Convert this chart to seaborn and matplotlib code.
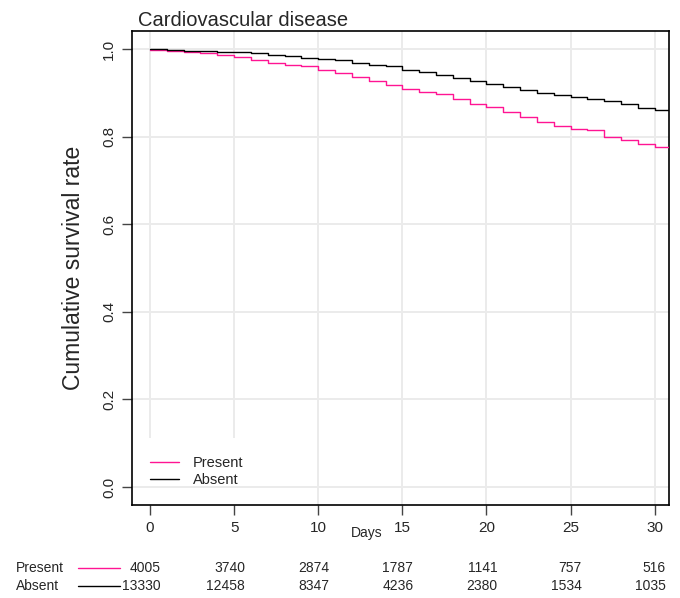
import matplotlib
matplotlib.use('Agg')

import matplotlib.pyplot as plt
import matplotlib.transforms as mtransforms
from matplotlib.lines import Line2D
import numpy as np
import pandas as pd
import seaborn as sns

# -------------------------
# Data
# -------------------------

days = list(range(0, 32))

# survival value on each interval [day, day+1)
present_surv = [0.998, 0.996, 0.993, 0.990, 0.986, 0.981, 0.975, 0.969, 0.964, 0.960,
                0.952, 0.945, 0.935, 0.926, 0.918, 0.908, 0.902, 0.897, 0.885, 0.874,
                0.868, 0.855, 0.844, 0.833, 0.824, 0.818, 0.814, 0.798, 0.792, 0.782,
                0.776, 0.776]
absent_surv = [0.999, 0.998, 0.996, 0.995, 0.994, 0.992, 0.990, 0.987, 0.984, 0.979,
               0.976, 0.974, 0.968, 0.964, 0.960, 0.952, 0.947, 0.940, 0.933, 0.927,
               0.921, 0.913, 0.906, 0.900, 0.896, 0.890, 0.885, 0.881, 0.874, 0.866,
               0.861, 0.861]

groups = ["Present", "Absent"]
group_colors = {"Present": "#ff1493", "Absent": "#000000"}

risk_days = [0, 5, 10, 15, 20, 25, 30]
present_at_risk = [4005, 3740, 2874, 1787, 1141, 757, 516]
absent_at_risk = [13330, 12458, 8347, 4236, 2380, 1534, 1035]

x_ticks = [0, 5, 10, 15, 20, 25, 30]
y_ticks = [0.0, 0.2, 0.4, 0.6, 0.8, 1.0]

df = pd.DataFrame({
    "day": days + days,
    "surv": present_surv + absent_surv,
    "group": ["Present"] * len(days) + ["Absent"] * len(days),
})

# -------------------------
# Figure
# -------------------------

sns.set_style("white")
plt.rcParams['font.family'] = ['Liberation Sans', 'DejaVu Sans']

fig = plt.figure(figsize=(6.8, 5.98), dpi=100)
ax = fig.add_axes([132 / 680, 1 - 505 / 598, 537 / 680, 474 / 598])

sns.lineplot(data=df, x="day", y="surv", hue="group", palette=group_colors,
             estimator=None, sort=False, drawstyle="steps-post",
             linewidth=1.0, legend=False, ax=ax, zorder=3)

ax.set_xlim(-1.07, 30.85)
ax.set_ylim(-0.041, 1.041)
ax.set_xticks(x_ticks)
ax.set_yticks(y_ticks)
ax.set_xticklabels([str(t) for t in x_ticks])
ax.set_yticklabels([f"{t:.1f}" for t in y_ticks], rotation=90, va="center")
ax.grid(True, color="#ebebeb", linewidth=1.4, zorder=0)
ax.set_axisbelow(True)

for s in ax.spines.values():
    s.set_visible(True)
    s.set_color("black")
    s.set_linewidth(1.2)

ax.tick_params(axis="both", which="major", direction="out", length=7.5,
               width=1.0, color="#444444", labelsize=11, left=True, bottom=True)
ax.tick_params(axis="x", pad=4)
ax.tick_params(axis="y", pad=4)

ax.set_xlabel("")
ax.set_ylabel("Cumulative survival rate", fontsize=16.5)
ax.yaxis.set_label_coords(-0.088, 0.5)

# legend in lower left with opaque background
handles = [Line2D([0], [0], color=group_colors[g], linewidth=1.0) for g in groups]
leg = ax.legend(handles, groups, loc="lower left", bbox_to_anchor=(0.0, 0.0),
                frameon=True, fontsize=10.5, handlelength=2.0, handletextpad=1.0,
                labelspacing=0.25, borderpad=1.2, borderaxespad=0.0)
leg.get_frame().set_facecolor("white")
leg.get_frame().set_edgecolor("none")
leg.get_frame().set_alpha(1.0)
leg.set_zorder(2)
ax.axhline(0.0, color="#ebebeb", linewidth=1.4, zorder=2.5)

# title and x label
fig.text(138 / 680, 1 - 26 / 598, "Cardiovascular disease", fontsize=14.5,
         ha="left", va="baseline")
fig.text(367 / 680, 1 - 533 / 598, "Days", fontsize=10, ha="center", va="center")

# -------------------------
# Number at risk table
# -------------------------

trans = mtransforms.blended_transform_factory(ax.transData, fig.transFigure)
row_y = {"Present": 1 - 568 / 598, "Absent": 1 - 586 / 598}
risk = {"Present": present_at_risk, "Absent": absent_at_risk}

for g in groups:
    y = row_y[g]
    fig.text(16 / 680, y, g, fontsize=10, ha="left", va="center")
    fig.add_artist(Line2D([78 / 680, 120 / 680], [y, y], color=group_colors[g],
                          linewidth=1.0, transform=fig.transFigure))
    for d, n in zip(risk_days, risk[g]):
        ax.text(d + 0.65, y, str(n), transform=trans, fontsize=10,
                ha="right", va="center", clip_on=False)

plt.savefig("out.png", dpi=100)
plt.close()
